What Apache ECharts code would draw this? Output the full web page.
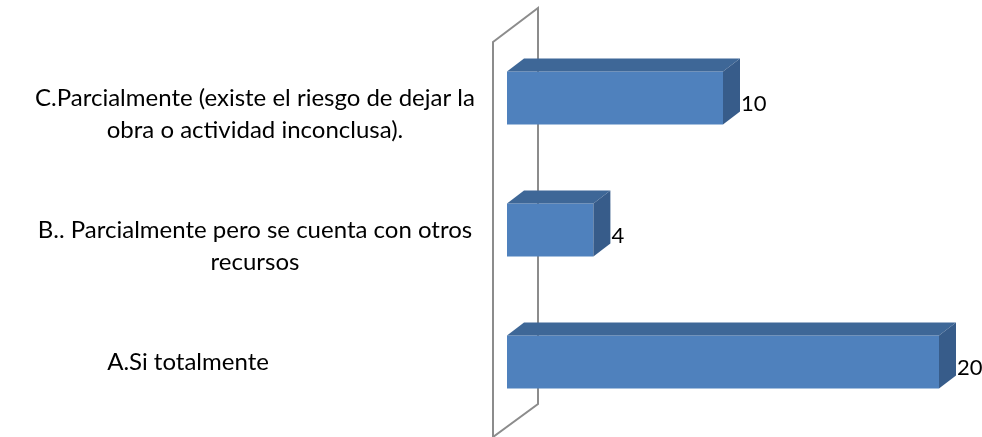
<!DOCTYPE html>
<html>
<head>
<meta charset="utf-8">
<script src="https://cdn.jsdelivr.net/npm/echarts@6/dist/echarts.min.js"></script>
<style>
html,body{margin:0;padding:0;background:#fff;}
#chart{width:982px;height:437px;}
</style>
</head>
<body>
<div id="chart"></div>
<script>
// Data (bottom to top on the category axis)
var categories = [
  'A.Si totalmente',
  'B.. Parcialmente pero se cuenta con otros\nrecursos',
  'C.Parcialmente (existe el riesgo de dejar la\nobra o actividad inconclusa).'
];
var values = [20, 4, 10];

var FONT = 'Lato, "Open Sans", sans-serif';
var GRID_LEFT = 507, GRID_RIGHT = 43, GRID_TOP = 32, GRID_BOTTOM = 9;
var DX = 17, DY = -13;
// per-category label padding (style only)
var labelPad = [[0, 134, 0, 0], [0, 0, 0, 0], [0, 0, 0, 0]];

var chart = echarts.init(document.getElementById('chart'), null, {renderer: 'canvas'});

var yData = categories.map(function (c, i) {
  var ts = {align: 'center'};
  if (labelPad[i][1] || labelPad[i][0]) ts.padding = labelPad[i];
  return {value: c, textStyle: ts};
});
var seriesData = values.map(function (v, i) { return [i, v]; });

function renderItem(params, api) {
  var cat = api.value(0);
  var v = api.value(1);
  var s = api.coord([0, cat]);
  var e = api.coord([v, cat]);
  var h = api.size([0, 1])[1] * 0.4;
  var x0 = s[0], x1 = e[0], yc = s[1];
  var yt = yc - h / 2, yb = yc + h / 2;
  return {
    type: 'group',
    children: [
      {type: 'rect', shape: {x: x0, y: yt, width: x1 - x0, height: h},
        style: {fill: '#4F81BD'}},
      {type: 'polygon', shape: {points: [[x0, yt], [x0 + DX, yt + DY], [x1 + DX, yt + DY], [x1, yt]]},
        style: {fill: '#3E6797'}},
      {type: 'polygon', shape: {points: [[x1, yt], [x1 + DX, yt + DY], [x1 + DX, yb + DY], [x1, yb]]},
        style: {fill: '#375C8A'}},
      {type: 'text', style: {text: String(v), x: x1 + DX + 1, y: yc + 6,
        fill: '#000', font: '22px ' + FONT, textAlign: 'left', textVerticalAlign: 'middle'}}
    ]
  };
}

var wl = GRID_LEFT - 14, wr = GRID_LEFT + 31;
var option = {
  animation: false,
  backgroundColor: '#fff',
  grid: {left: GRID_LEFT, right: GRID_RIGHT, top: GRID_TOP, bottom: GRID_BOTTOM,
    containLabel: false, outerBoundsMode: 'none'},
  xAxis: {type: 'value', min: 0, max: 20, show: false, splitLine: {show: false}},
  yAxis: {
    type: 'category', data: yData,
    axisLine: {show: false}, axisTick: {show: false}, splitLine: {show: false},
    axisLabel: {
      margin: 252, align: 'center', verticalAlign: 'middle',
      color: '#000', fontFamily: FONT, fontSize: 24, lineHeight: 32,
      formatter: function (v) { return v.indexOf('\n') >= 0 ? '\n' + v : v; }
    }
  },
  graphic: [{
    type: 'polygon', z: 0, silent: true,
    shape: {points: [[wl, 42], [wr, 8], [wr, 404], [wl, 437]]},
    style: {fill: 'none', stroke: '#8C8C8C', lineWidth: 2}
  }],
  series: [{
    type: 'custom', renderItem: renderItem, data: seriesData,
    encode: {x: 1, y: 0}, z: 5
  }]
};
chart.setOption(option);
</script>
</body>
</html>
